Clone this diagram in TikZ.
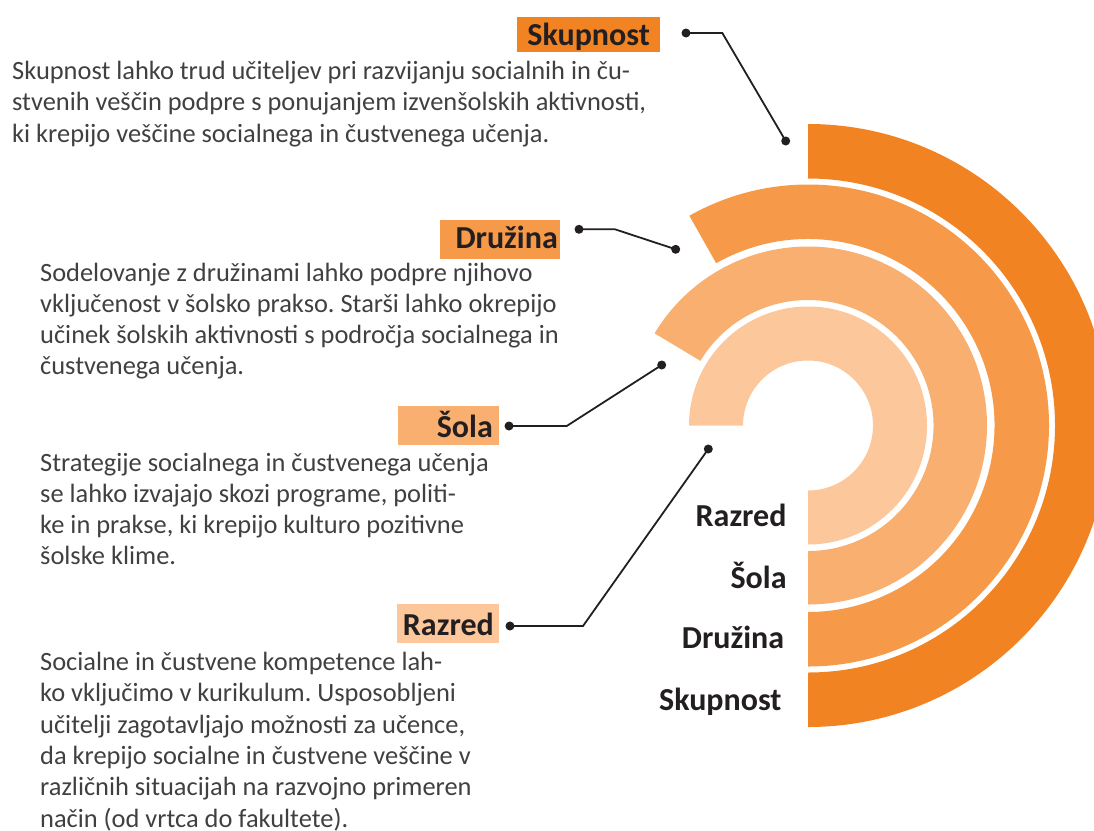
\documentclass[tikz,border=0pt]{standalone}
\usepackage{fontspec}
\setmainfont{Carlito}
\frenchspacing
\definecolor{cSk}{RGB}{242,131,35}
\definecolor{cDr}{RGB}{246,154,74}
\definecolor{cSo}{RGB}{249,175,112}
\definecolor{cRa}{RGB}{251,199,155}
\definecolor{txt}{RGB}{64,64,64}
\definecolor{ink}{RGB}{35,31,32}
\newcommand\annsec[5]{\fill[#1] (#2:#5pt) arc[start angle=#2, end angle=#3, radius=#5pt] -- (#3:#4pt) arc[start angle=#3, end angle=#2, radius=#4pt] -- cycle;}
\begin{document}
\begin{tikzpicture}[x=1pt,y=-1pt,
  body/.style={anchor=north west, align=left, inner sep=0pt, text=txt, font=\fontsize{26.4}{31.3}\selectfont},
  lbl/.style={anchor=north east, align=right, inner ysep=0pt, text=ink, font=\bfseries\fontsize{32}{32}\selectfont},
  rlbl/.style={anchor=base east, inner sep=0pt, text=ink, font=\bfseries\fontsize{32}{32}\selectfont},
  conn/.style={draw=ink, line width=1.8pt},
  dot/.style={circle, fill=ink, inner sep=0pt, minimum size=9pt}
]
\useasboundingbox (0,0) rectangle (1094,830);
% rings
\begin{scope}[shift={(808,425.5)}]
\annsec{cSk}{-90}{90}{247}{301.5}
\annsec{cDr}{-90}{119.5}{186.5}{241}
\annsec{cSo}{-90}{149}{125.5}{179}
\annsec{cRa}{-90}{180}{65}{119}
\end{scope}
% right labels
\node[rlbl] (rRa) at (786.7,526.7) {Razred};
\node[rlbl] (rSo) at (786.7,588.3) {Šola};
\node[rlbl] (rDr) at (784.3,648.3) {Družina};
\node[rlbl] (rSk) at (781.7,710) {Skupnost};
% label boxes
\node[lbl, fill=cSk, text width=123pt, inner xsep=10pt, text height=28.7pt, text depth=6.3pt] (lSk) at (660,17) {Skupnost};
\node[lbl, fill=cDr, text width=116pt, inner xsep=2pt, text height=28pt, text depth=11pt] (lDr) at (560,220) {Družina};
\node[lbl, fill=cSo, text width=89pt, inner xsep=6pt, text height=31pt, text depth=8pt] (lSo) at (499,406) {Šola};
\node[lbl, fill=cRa, text width=92pt, inner xsep=5pt, text height=31pt, text depth=8pt] (lRa) at (499,604) {Razred};
% body texts
\node[body] (tSk) at (12,61) {Skupnost lahko trud učiteljev pri razvijanju socialnih in ču-\\stvenih veščin podpre s ponujanjem izvenšolskih aktivnosti,\\ki krepijo veščine socialnega in čustvenega učenja.};
\node[body] (tDr) at (40,262.5) {Sodelovanje z družinami lahko podpre njihovo\\vključenost v šolsko prakso. Starši lahko okrepijo\\učinek šolskih aktivnosti s področja socialnega in\\čustvenega učenja.};
\node[body] (tSo) at (40,452.5) {Strategije socialnega in čustvenega učenja\\se lahko izvajajo skozi programe, politi-\\ke in prakse, ki krepijo kulturo pozitivne\\šolske klime.};
\node[body] (tRa) at (40,652) {Socialne in čustvene kompetence lah-\\ko vključimo v kurikulum. Usposobljeni\\učitelji zagotavljajo možnosti za učence,\\da krepijo socialne in čustvene veščine v\\različnih situacijah na razvojno primeren\\način (od vrtca do fakultete).};
% connectors
\node[dot] (dSk1) at (686,33) {};
\coordinate (bSk) at (722.3,33);
\node[dot] (dSk2) at (785.7,141) {};
\draw[conn] (dSk1.center) -- (bSk) -- (dSk2.center);
\node[dot] (dDr1) at (579,229.3) {};
\coordinate (bDr) at (615,229.3);
\node[dot] (dDr2) at (675.7,249.3) {};
\draw[conn] (dDr1.center) -- (bDr) -- (dDr2.center);
\node[dot] (dSo1) at (509,426) {};
\coordinate (bSo) at (566.7,426);
\node[dot] (dSo2) at (661.7,365) {};
\draw[conn] (dSo1.center) -- (bSo) -- (dSo2.center);
\node[dot] (dRa1) at (510,626) {};
\coordinate (bRa) at (583,626);
\node[dot] (dRa2) at (708.3,449) {};
\draw[conn] (dRa1.center) -- (bRa) -- (dRa2.center);
\end{tikzpicture}
\end{document}
